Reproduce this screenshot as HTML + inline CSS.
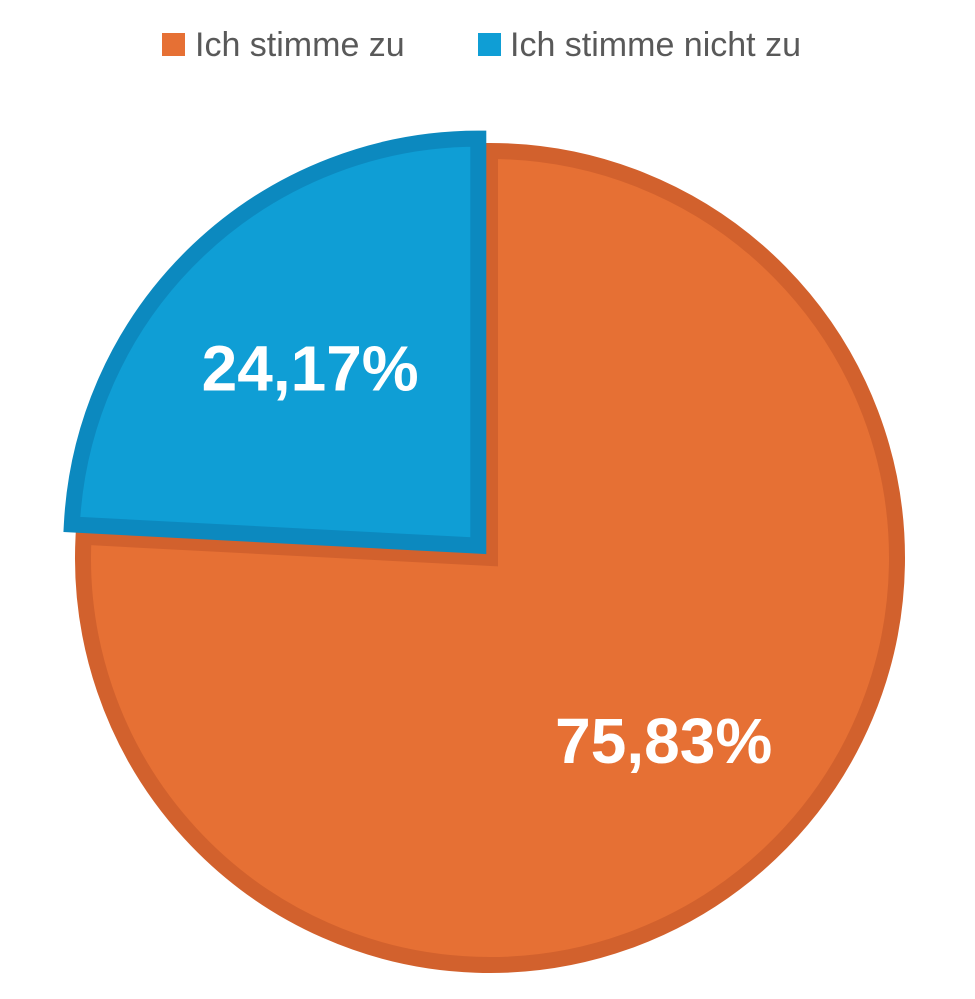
<!DOCTYPE html>
<html><head><meta charset="utf-8">
<style>
html,body{margin:0;padding:0;background:#fff;}
svg{display:block;font-family:"Liberation Sans",sans-serif;}
</style></head>
<body>
<svg id="chart" width="975" height="999" viewBox="0 0 975 999">
  <g>
    <g>
      <rect x="162" y="33" width="23" height="23" fill="#E67034"/>
      <text x="195" y="56" font-size="34" fill="#595959">Ich stimme zu</text>
    </g>
    <g>
      <rect x="478" y="33" width="23" height="23" fill="#0F9ED5"/>
      <text x="510" y="56" font-size="34" fill="#595959">Ich stimme nicht zu</text>
    </g>
  </g>
  <g id="slices"></g>
</svg>
<script>
const categories = ["Ich stimme zu", "Ich stimme nicht zu"];
const values = [75.83, 24.17];
const valueLabels = ["75,83%", "24,17%"];
const fills = ["#E67034", "#0F9ED5"];
const strokes = ["#D2612D", "#0C89BF"];
const explode = [0, 17];
const cx = 490, cy = 558, r = 407;
const total = values.reduce((a,b)=>a+b,0);
const g = document.getElementById('slices');
const NS = "http://www.w3.org/2000/svg";
let start = 0;
values.forEach((v,i)=>{
  const a0 = start/total*2*Math.PI, a1 = (start+v)/total*2*Math.PI;
  start += v;
  const mid = (a0+a1)/2;
  const ox = cx + explode[i]*Math.sin(mid), oy = cy - explode[i]*Math.cos(mid);
  const x0 = ox + r*Math.sin(a0), y0 = oy - r*Math.cos(a0);
  const x1 = ox + r*Math.sin(a1), y1 = oy - r*Math.cos(a1);
  const large = (a1-a0) > Math.PI ? 1 : 0;
  const p = document.createElementNS(NS,'path');
  p.setAttribute('d', `M${ox},${oy} L${x0},${y0} A${r},${r} 0 ${large} 1 ${x1},${y1} Z`);
  p.setAttribute('fill', fills[i]);
  p.setAttribute('stroke', strokes[i]);
  p.setAttribute('stroke-width', '16');
  p.setAttribute('stroke-linejoin', 'miter');
  
  
  g.appendChild(p);
  const lr = i===0 ? 0.62*r : 0.60*r;
  const t = document.createElementNS(NS,'text');
  t.setAttribute('x', ox + lr*Math.sin(mid));
  t.setAttribute('y', oy - lr*Math.cos(mid) + 22);
  t.setAttribute('text-anchor', 'middle');
  t.setAttribute('font-size', '64');
  t.setAttribute('font-weight', 'bold');
  t.setAttribute('fill', '#ffffff');
  t.textContent = valueLabels[i];
  
  
  g.appendChild(t);
});
</script>
</body></html>
